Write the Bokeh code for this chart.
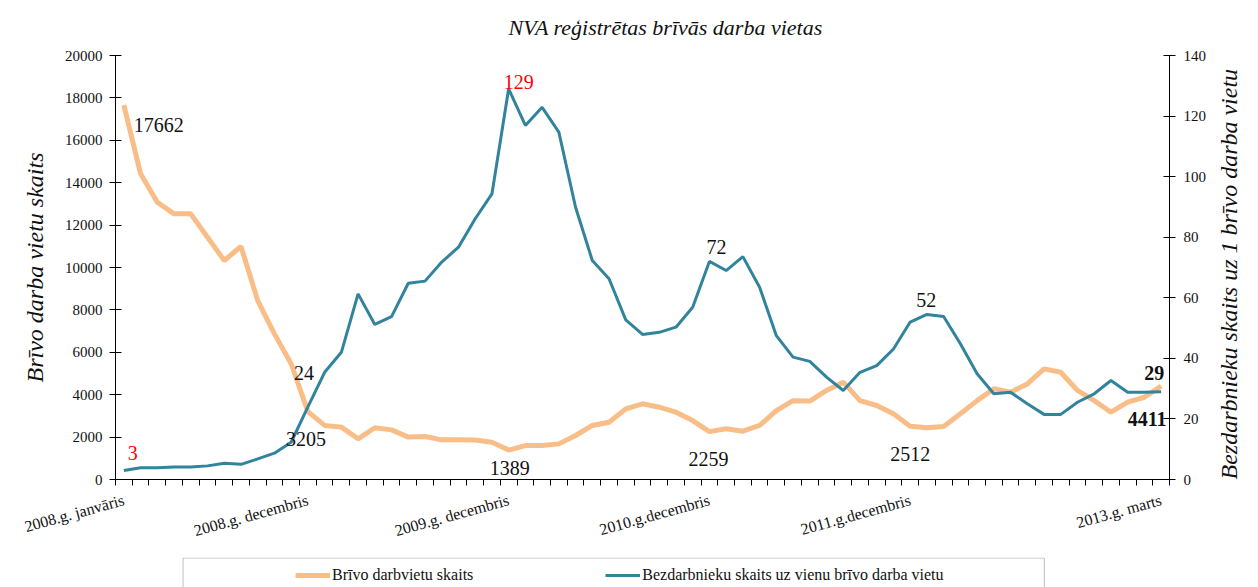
import math
from bokeh.plotting import figure
from bokeh.layouts import column
from bokeh.models import (Range1d, LinearAxis, FixedTicker, Legend, LegendItem, Label,
                          BoxAnnotation)
from bokeh.embed import file_html
from bokeh.resources import INLINE

# Monthly data, 2008 January .. 2013 March (63 months)
months = list(range(63))
vacancies = [17662, 14420, 13080, 12530, 12530, 11430, 10330, 10990, 8440, 6870,
             5460, 3205, 2550, 2470, 1920, 2440, 2340, 2000, 2030, 1870,
             1870, 1860, 1760, 1389, 1600, 1600, 1680, 2075, 2550, 2700,
             3330, 3570, 3410, 3175, 2780, 2259, 2390, 2280, 2550, 3250,
             3720, 3700, 4200, 4590, 3720, 3490, 3100, 2512, 2440, 2500,
             3100, 3720, 4280, 4120, 4510, 5220, 5060, 4200, 3720, 3175,
             3650, 3880, 4411]
ratio = [3, 3.9, 3.9, 4.1, 4.1, 4.5, 5.4, 5.0, 6.8, 8.7,
         12.3, 24, 35.4, 42, 61.3, 51.2, 53.8, 64.8, 65.5, 71.8,
         76.7, 86.1, 94.3, 129, 116.9, 122.9, 114.7, 89.9, 72.3, 66.3,
         52.7, 47.9, 48.6, 50.3, 56.9, 72, 69, 73.6, 63.5, 47.5,
         40.4, 39, 33.8, 29.4, 35.4, 37.6, 43.1, 52, 54.5, 53.8,
         44.8, 34.9, 28.3, 28.8, 25, 21.5, 21.5, 25.5, 28.3, 32.7,
         28.8, 28.8, 29]
tick_index = [0, 11, 23, 35, 47, 62]
tick_text = ["2008.g. janvāris", "2008.g. decembris", "2009.g. decembris",
             "2010.g.decembris", "2011.g.decembris", "2013.g. marts"]
left_ticks = list(range(0, 20001, 2000))
right_ticks = list(range(0, 141, 20))
series_names = ["Brīvo darbvietu skaits",
                "Bezdarbnieku skaits uz vienu brīvo darba vietu"]

# annotated points (month index)
vac_marks = [0, 11, 23, 35, 47, 62]
ratio_marks = [0, 11, 23, 35, 47, 62]

ORANGE = "#F9BE88"
TEAL = "#31849B"
FONT = "Liberation Serif"
INK = "#111111"
BORDER_L, BORDER_R = 115, 82

p = figure(width=1258, height=557, output_backend="svg", toolbar_location=None,
           x_range=Range1d(-0.5, 62.5), y_range=Range1d(0, 20000),
           min_border_left=BORDER_L, min_border_right=BORDER_R, min_border_top=55,
           min_border_bottom=78)
p.extra_y_ranges = {"r": Range1d(0, 140)}
p.xgrid.visible = False
p.ygrid.visible = False
p.outline_line_color = None

p.title.text = "NVA reģistrētas brīvās darba vietas"
p.title.align = "left"
p.title.offset = 393
p.title.standoff = 28
p.title.vertical_align = "top"
p.title.text_font = FONT
p.title.text_font_style = "italic"
p.title.text_font_size = "22px"
p.title.text_color = INK

r1 = p.line(months, vacancies, line_color=ORANGE, line_width=5)
r2 = p.line(months, ratio, y_range_name="r", line_color=TEAL, line_width=3)

# x axis
xa = p.xaxis[0]
xa.ticker = FixedTicker(ticks=tick_index, minor_ticks=[i - 0.5 for i in range(64)])
xa.major_label_overrides = {i: t for i, t in zip(tick_index, tick_text)}
xa.major_tick_in = 0
xa.major_tick_out = 0
xa.minor_tick_in = 0
xa.minor_tick_out = 6
xa.minor_tick_line_color = "black"
xa.major_label_orientation = 0.27
xa.major_label_standoff = 14
xa.major_label_text_font = FONT
xa.major_label_text_font_size = "16px"
xa.major_label_text_color = INK
xa.axis_line_color = "black"

# left axis
ya = p.yaxis[0]
ya.ticker = FixedTicker(ticks=left_ticks)
ya.minor_tick_line_color = None
ya.major_tick_in = 6
ya.major_tick_out = 6
ya.major_tick_line_color = "black"
ya.axis_line_color = "black"
ya.major_label_standoff = 7
ya.major_label_text_font = FONT
ya.major_label_text_font_size = "15px"
ya.major_label_text_color = INK
ya.axis_label = "Brīvo darba vietu skaits"
ya.axis_label_text_font = FONT
ya.axis_label_text_font_style = "italic"
ya.axis_label_text_font_size = "24px"
ya.axis_label_text_color = INK
ya.axis_label_standoff = 14

# right axis
ra = LinearAxis(y_range_name="r", ticker=FixedTicker(ticks=right_ticks))
ra.minor_tick_line_color = None
ra.major_tick_in = 6
ra.major_tick_out = 6
ra.major_tick_line_color = "black"
ra.axis_line_color = "black"
ra.major_label_standoff = 8
ra.major_label_text_font = FONT
ra.major_label_text_font_size = "15px"
ra.major_label_text_color = INK
ra.axis_label = "Bezdarbnieku skaits uz 1 brīvo darba vietu"
ra.axis_label_orientation = math.pi / 2
ra.axis_label_align = "start"
ra.axis_label_text_font = FONT
ra.axis_label_text_font_style = "italic"
ra.axis_label_text_font_size = "24px"
ra.axis_label_text_color = INK
ra.axis_label_standoff = 20
p.add_layout(ra, "right")

# data labels
vac_offsets = [(35, -20), (-2, -27), (1, -18), (-1, -27), (0, -28), (-14, -33)]
ratio_offsets = [(9, 17), (-4, 34), (10, 7), (7, 14), (16, 22), (-7, 19)]
ratio_colors = ["red", INK, "red", INK, INK, INK]
for k, i in enumerate(vac_marks):
    dx, dy = vac_offsets[k]
    p.add_layout(Label(x=months[i], y=vacancies[i], text=str(vacancies[i]),
                       x_offset=dx, y_offset=dy, text_align="center",
                       text_baseline="middle", text_font=FONT,
                       text_font_size="20px", text_color=INK,
                       text_font_style="bold" if i == 62 else "normal"))
for k, i in enumerate(ratio_marks):
    dx, dy = ratio_offsets[k]
    p.add_layout(Label(x=months[i], y=ratio[i], y_range_name="r",
                       text=str(ratio[i]),
                       x_offset=dx, y_offset=dy, text_align="center",
                       text_baseline="middle", text_font=FONT,
                       text_font_size="20px", text_color=ratio_colors[k],
                       text_font_style="bold" if i == 62 else "normal"))

# legend strip below the chart (x measured in page pixels)
lg = figure(width=1258, height=30, output_backend="svg", toolbar_location=None,
            x_axis_type=None, y_axis_type=None,
            x_range=Range1d(BORDER_L, 1258 - BORDER_R), y_range=Range1d(0, 30),
            min_border_left=BORDER_L, min_border_right=BORDER_R, min_border_top=0,
            min_border_bottom=0)
lg.xgrid.visible = False
lg.ygrid.visible = False
lg.outline_line_color = None
lg.add_layout(BoxAnnotation(left=183, right=1050, bottom=-10, top=29.5,
                            fill_alpha=0, line_color="#333333", line_width=1))
k1 = lg.line([math.nan], [math.nan], line_color=ORANGE, line_width=5)
k2 = lg.line([math.nan], [math.nan], line_color=TEAL, line_width=3)
legend = Legend(items=[LegendItem(label=series_names[0], renderers=[k1]),
                       LegendItem(label=series_names[1], renderers=[k2])],
                orientation="horizontal", location=(180, 2),
                padding=0, spacing=132, glyph_width=35, glyph_height=20,
                label_height=20, label_standoff=2, margin=0,
                label_text_font=FONT, label_text_font_size="16px",
                label_text_color=INK, border_line_color=None,
                background_fill_alpha=0)
lg.add_layout(legend, "center")

open("out.html", "w").write(file_html(column(p, lg, spacing=0), INLINE))
